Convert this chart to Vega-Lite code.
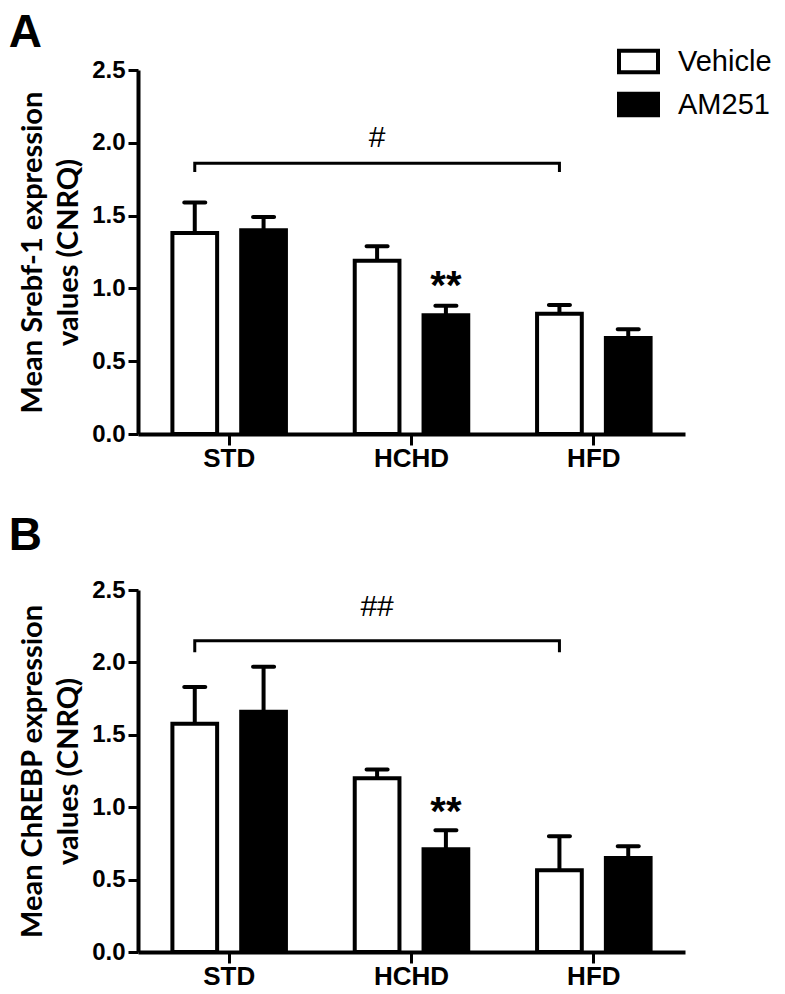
{
  "$schema": "https://vega.github.io/schema/vega-lite/v6.json",
  "background": "white",
  "padding": {"left": 8, "top": 10, "right": 5, "bottom": 5},
  "config": {
    "view": {"stroke": null},
    "axis": {"grid": false, "domainColor": "black", "tickColor": "black", "labelColor": "black", "titleColor": "black"}
  },
  "datasets": {
    "barsA": [
      {"group": "STD", "treatment": "Vehicle", "mean": 1.38, "upper": 1.59},
      {"group": "STD", "treatment": "AM251", "mean": 1.40, "upper": 1.49},
      {"group": "HCHD", "treatment": "Vehicle", "mean": 1.19, "upper": 1.29},
      {"group": "HCHD", "treatment": "AM251", "mean": 0.815, "upper": 0.88},
      {"group": "HFD", "treatment": "Vehicle", "mean": 0.826, "upper": 0.886},
      {"group": "HFD", "treatment": "AM251", "mean": 0.66, "upper": 0.72}
    ],
    "barsB": [
      {"group": "STD", "treatment": "Vehicle", "mean": 1.577, "upper": 1.83},
      {"group": "STD", "treatment": "AM251", "mean": 1.66, "upper": 1.97},
      {"group": "HCHD", "treatment": "Vehicle", "mean": 1.20, "upper": 1.26},
      {"group": "HCHD", "treatment": "AM251", "mean": 0.71, "upper": 0.84},
      {"group": "HFD", "treatment": "Vehicle", "mean": 0.565, "upper": 0.80},
      {"group": "HFD", "treatment": "AM251", "mean": 0.65, "upper": 0.73}
    ],
    "bracketA": [
      {"group": "STD", "treatment": "Vehicle", "y": 1.80, "o": 1},
      {"group": "STD", "treatment": "Vehicle", "y": 1.86, "o": 2},
      {"group": "HFD", "treatment": "Vehicle", "y": 1.86, "o": 3},
      {"group": "HFD", "treatment": "Vehicle", "y": 1.80, "o": 4}
    ],
    "bracketB": [
      {"group": "STD", "treatment": "Vehicle", "y": 2.07, "o": 1},
      {"group": "STD", "treatment": "Vehicle", "y": 2.15, "o": 2},
      {"group": "HFD", "treatment": "Vehicle", "y": 2.15, "o": 3},
      {"group": "HFD", "treatment": "Vehicle", "y": 2.07, "o": 4}
    ],
    "hashA": [{"group": "HCHD", "treatment": "Vehicle", "y": 2.03, "label": "#"}],
    "hashB": [{"group": "HCHD", "treatment": "Vehicle", "y": 2.38, "label": "##"}],
    "starA": [{"group": "HCHD", "treatment": "AM251", "y": 1.01, "label": "**"}],
    "starB": [{"group": "HCHD", "treatment": "AM251", "y": 0.96, "label": "**"}]
  },
  "vconcat": [
    {
      "title": {"text": "A", "anchor": "start", "frame": "bounds", "font": "Liberation Sans", "fontSize": 46, "fontWeight": "bold", "color": "black", "offset": 1, "dx": -10},
      "width": 547,
      "height": 364,
      "encoding": {
        "x": {"field": "group", "type": "nominal", "sort": ["STD", "HCHD", "HFD"], "scale": {"paddingInner": 0, "paddingOuter": 0},
          "axis": {"title": null, "labelAngle": 0, "labelFont": "Liberation Sans", "labelFontSize": 26, "labelFontWeight": "bold", "tickSize": 11, "tickWidth": 3, "domainWidth": 4, "labelPadding": 0}},
        "xOffset": {"field": "treatment", "type": "nominal", "sort": ["Vehicle", "AM251"], "scale": {"paddingInner": 0.35, "paddingOuter": 0.5}}
      },
      "layer": [
        {
          "data": {"name": "barsA"},
          "mark": {"type": "bar", "stroke": "black", "strokeWidth": 4, "strokeJoin": "miter"},
          "encoding": {
            "y": {"field": "mean", "type": "quantitative", "scale": {"domain": [0, 2.5], "nice": false},
              "axis": {"title": ["Mean Srebf-1 expression", "values (CNRQ)"], "titleFont": "Lato", "titleFontSize": 29, "titleFontWeight": "bold", "titleLineHeight": 36, "titlePadding": 8,
                "values": [0, 0.5, 1, 1.5, 2, 2.5], "format": ".1f", "labelFont": "Liberation Sans", "labelFontSize": 24, "labelFontWeight": "bold", "tickSize": 10, "tickWidth": 3, "domainWidth": 4, "labelPadding": 3}},
            "fill": {"field": "treatment", "type": "nominal", "scale": {"domain": ["Vehicle", "AM251"], "range": ["white", "black"]},
              "legend": {"orient": "none", "legendX": 479, "legendY": -30, "title": null, "symbolType": "M-1,-0.55H1V0.55H-1Z", "symbolSize": 1521, "symbolStrokeColor": "black", "symbolStrokeWidth": 4, "symbolOpacity": 1, "labelFont": "Liberation Sans", "labelFontSize": 29, "labelColor": "black", "labelOffset": 18, "rowPadding": 2}}
          }
        },
        {
          "data": {"name": "barsA"},
          "mark": {"type": "rule", "stroke": "black", "strokeWidth": 4},
          "encoding": {"y": {"field": "mean", "type": "quantitative"}, "y2": {"field": "upper"}}
        },
        {
          "data": {"name": "barsA"},
          "mark": {"type": "tick", "color": "black", "size": 25, "thickness": 4, "opacity": 1, "cornerRadius": 2},
          "encoding": {"y": {"field": "upper", "type": "quantitative"}}
        },
        {
          "data": {"name": "bracketA"},
          "mark": {"type": "line", "color": "black", "strokeWidth": 3},
          "encoding": {"y": {"field": "y", "type": "quantitative"}, "order": {"field": "o"}}
        },
        {
          "data": {"name": "hashA"},
          "mark": {"type": "text", "font": "Liberation Sans", "fontSize": 30, "color": "black", "baseline": "middle"},
          "encoding": {"y": {"field": "y", "type": "quantitative"}, "text": {"field": "label"}}
        },
        {
          "data": {"name": "starA"},
          "mark": {"type": "text", "font": "Liberation Sans", "fontSize": 40, "fontWeight": "bold", "color": "black", "baseline": "middle"},
          "encoding": {"y": {"field": "y", "type": "quantitative"}, "text": {"field": "label"}}
        }
      ]
    },
    {
      "title": {"text": "B", "anchor": "start", "frame": "bounds", "font": "Liberation Sans", "fontSize": 46, "fontWeight": "bold", "color": "black", "offset": 18, "dx": -10},
      "width": 547,
      "height": 362,
      "encoding": {
        "x": {"field": "group", "type": "nominal", "sort": ["STD", "HCHD", "HFD"], "scale": {"paddingInner": 0, "paddingOuter": 0},
          "axis": {"title": null, "labelAngle": 0, "labelFont": "Liberation Sans", "labelFontSize": 26, "labelFontWeight": "bold", "tickSize": 11, "tickWidth": 3, "domainWidth": 4, "labelPadding": 0}},
        "xOffset": {"field": "treatment", "type": "nominal", "sort": ["Vehicle", "AM251"], "scale": {"paddingInner": 0.35, "paddingOuter": 0.5}}
      },
      "layer": [
        {
          "data": {"name": "barsB"},
          "mark": {"type": "bar", "stroke": "black", "strokeWidth": 4, "strokeJoin": "miter"},
          "encoding": {
            "y": {"field": "mean", "type": "quantitative", "scale": {"domain": [0, 2.5], "nice": false},
              "axis": {"title": ["Mean ChREBP expression", "values (CNRQ)"], "titleFont": "Lato", "titleFontSize": 29, "titleFontWeight": "bold", "titleLineHeight": 36, "titlePadding": 8,
                "values": [0, 0.5, 1, 1.5, 2, 2.5], "format": ".1f", "labelFont": "Liberation Sans", "labelFontSize": 24, "labelFontWeight": "bold", "tickSize": 10, "tickWidth": 3, "domainWidth": 4, "labelPadding": 3}},
            "fill": {"field": "treatment", "type": "nominal", "scale": {"domain": ["Vehicle", "AM251"], "range": ["white", "black"]},
              "legend": {"orient": "none", "legendX": 479, "legendY": -30, "title": null, "symbolType": "M-1,-0.55H1V0.55H-1Z", "symbolSize": 1521, "symbolStrokeColor": "black", "symbolStrokeWidth": 4, "symbolOpacity": 1, "labelFont": "Liberation Sans", "labelFontSize": 29, "labelColor": "black", "labelOffset": 18, "rowPadding": 2}}
          }
        },
        {
          "data": {"name": "barsB"},
          "mark": {"type": "rule", "stroke": "black", "strokeWidth": 4},
          "encoding": {"y": {"field": "mean", "type": "quantitative"}, "y2": {"field": "upper"}}
        },
        {
          "data": {"name": "barsB"},
          "mark": {"type": "tick", "color": "black", "size": 25, "thickness": 4, "opacity": 1, "cornerRadius": 2},
          "encoding": {"y": {"field": "upper", "type": "quantitative"}}
        },
        {
          "data": {"name": "bracketB"},
          "mark": {"type": "line", "color": "black", "strokeWidth": 3},
          "encoding": {"y": {"field": "y", "type": "quantitative"}, "order": {"field": "o"}}
        },
        {
          "data": {"name": "hashB"},
          "mark": {"type": "text", "font": "Liberation Sans", "fontSize": 30, "color": "black", "baseline": "middle"},
          "encoding": {"y": {"field": "y", "type": "quantitative"}, "text": {"field": "label"}}
        },
        {
          "data": {"name": "starB"},
          "mark": {"type": "text", "font": "Liberation Sans", "fontSize": 40, "fontWeight": "bold", "color": "black", "baseline": "middle"},
          "encoding": {"y": {"field": "y", "type": "quantitative"}, "text": {"field": "label"}}
        }
      ]
    }
  ],
  "spacing": 42
}
